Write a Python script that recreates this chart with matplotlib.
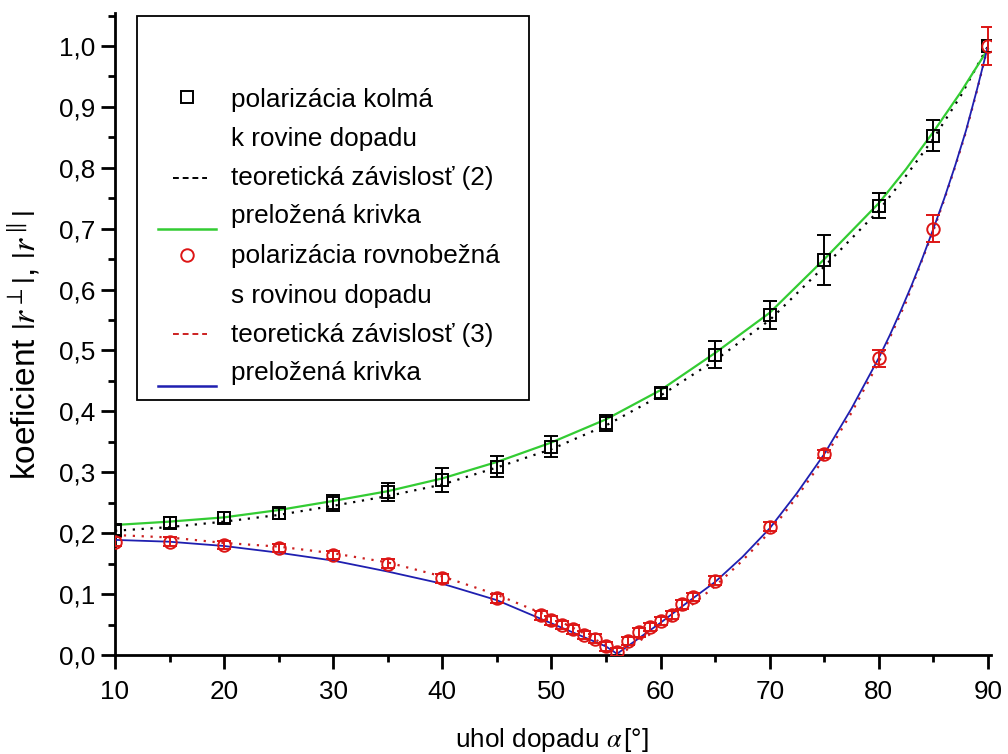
import matplotlib
matplotlib.use("Agg")
import matplotlib.pyplot as plt
from matplotlib.lines import Line2D
from matplotlib.patches import Rectangle
from matplotlib.ticker import MultipleLocator, FuncFormatter

# ---------------- data ----------------
alpha_perp = [10, 15, 20, 25, 30, 35, 40, 45, 50, 55, 60, 65, 70, 75, 80, 85, 90]
r_perp = [0.205, 0.217, 0.2255, 0.233, 0.249, 0.268, 0.287, 0.309, 0.342, 0.381,
          0.430, 0.493, 0.558, 0.648, 0.738, 0.853, 1.000]
r_perp_err = [0.008, 0.009, 0.009, 0.009, 0.013, 0.015, 0.020, 0.017, 0.017, 0.0125,
              0.008, 0.022, 0.023, 0.041, 0.020, 0.025, 0.010]

alpha_par = [10, 15, 20, 25, 30, 35, 40, 45,
             49, 50, 51, 52, 53, 54, 55, 56, 57, 58, 59, 60, 61, 62, 63,
             65, 70, 75, 80, 85, 90]
r_par = [0.186, 0.186, 0.181, 0.176, 0.164, 0.150, 0.126, 0.093,
         0.065, 0.057, 0.049, 0.042, 0.033, 0.027, 0.014, 0.005, 0.023, 0.037, 0.046,
         0.056, 0.066, 0.083, 0.095,
         0.122, 0.211, 0.330, 0.487, 0.700, 1.000]
r_par_err = [0.007, 0.007, 0.007, 0.007, 0.007, 0.007, 0.007, 0.007,
             0.007, 0.007, 0.007, 0.007, 0.007, 0.007, 0.007, 0.007, 0.007, 0.007, 0.007,
             0.007, 0.007, 0.007, 0.007,
             0.007, 0.007, 0.007, 0.014, 0.022, 0.032]

# fitted curve (perpendicular) and theoretical dependence (2)
curve_perp_x = [10, 15, 20, 25, 30, 35, 40, 45, 50, 55, 60, 65, 70, 75, 80, 82.5,
                85, 87.5, 90]
fit_perp_y = [0.2135, 0.219, 0.226, 0.238, 0.253, 0.269, 0.290, 0.317, 0.349, 0.387,
              0.435, 0.496, 0.562, 0.650, 0.742, 0.798, 0.859, 0.924, 0.995]
theory_perp_y = [0.204, 0.210, 0.219, 0.230, 0.245, 0.261, 0.280, 0.308, 0.338, 0.377,
                 0.426, 0.484, 0.550, 0.638, 0.730, 0.787, 0.848, 0.918, 1.000]

# fitted curve (parallel)
fit_par_x = [10, 15, 20, 25, 30, 35, 40, 45, 50, 52.5, 55, 56, 57.5, 60, 62.5, 65,
             67.5, 70, 72.5, 75, 77.5, 80, 81, 82, 83, 84, 85, 86, 87, 88, 89, 90]
fit_par_y = [0.189, 0.186, 0.179, 0.168, 0.155, 0.137, 0.117, 0.090, 0.052, 0.033,
             0.014, 0.002, 0.021, 0.053, 0.087, 0.120, 0.161, 0.208, 0.266, 0.330,
             0.405, 0.488, 0.525, 0.565, 0.607, 0.652, 0.700, 0.750, 0.804, 0.862,
             0.929, 1.000]

# theoretical dependence (3)
theory_par_x = [10, 15, 20, 25, 30, 35, 40, 45, 50, 52.5, 55, 56.3, 57.5, 60, 62.5,
                65, 67.5, 70, 72.5, 75, 77.5, 80, 82.5, 85, 86, 87, 88, 89, 90]
theory_par_y = [0.197, 0.193, 0.184, 0.178, 0.167, 0.152, 0.129, 0.099, 0.062, 0.040,
                0.016, 0.000, 0.017, 0.045, 0.077, 0.113, 0.155, 0.202, 0.260, 0.323,
                0.398, 0.481, 0.580, 0.697, 0.748, 0.802, 0.860, 0.927, 1.000]

legend_labels = ["polarizácia kolmá", "k rovine dopadu", "teoretická závislosť (2)",
                 "preložená krivka", "polarizácia rovnobežná", "s rovinou dopadu",
                 "teoretická závislosť (3)", "preložená krivka"]

x_label = r"uhol dopadu $\alpha\,$[°]"
y_label = r"koeficient $|r^{\perp}|$, $|r^{\parallel}|$"

# ---------------- style ----------------
plt.rcParams["font.family"] = ["Liberation Sans", "DejaVu Sans"]
plt.rcParams["mathtext.fontset"] = "stix"
FS = 18.8

GREEN = "#33cc33"
BLUE = "#1f1fb0"
RED = "#dd1515"
RED_D = "#cc2020"

fig = plt.figure(figsize=(10.08, 7.54), dpi=100)
W, H = 1008, 754
ax_l, ax_r, ax_t, ax_b = 115, 990.7, 12.5, 655
ax = fig.add_axes([ax_l / W, 1 - ax_b / H, (ax_r - ax_l) / W, (ax_b - ax_t) / H])

# curves
ax.plot(curve_perp_x, theory_perp_y, color="black", lw=1.6, ls=(0, (1, 3)), zorder=2)
ax.plot(curve_perp_x, fit_perp_y, color=GREEN, lw=1.6, zorder=3)
ax.plot(theory_par_x, theory_par_y, color=RED_D, lw=1.6, ls=(0, (1, 3)), zorder=2)
ax.plot(fit_par_x, fit_par_y, color=BLUE, lw=1.3, zorder=3)

# data points
ax.errorbar(alpha_perp, r_perp, yerr=r_perp_err, fmt="s", ms=8.5, mfc="none",
            mec="black", mew=1.4, ecolor="black", elinewidth=1.4, capsize=5,
            capthick=1.4, zorder=4)
ax.errorbar(alpha_par, r_par, yerr=r_par_err, fmt="o", ms=9, mfc="none",
            mec=RED, mew=1.4, ecolor=RED, elinewidth=1.4, capsize=5,
            capthick=1.4, zorder=4)

ax.set_xlim(10, 90.25)
ax.set_ylim(0, 1.055)

for s in ["top", "right"]:
    ax.spines[s].set_visible(False)
for s in ["left", "bottom"]:
    ax.spines[s].set_linewidth(2)

ax.xaxis.set_major_locator(MultipleLocator(10))
ax.xaxis.set_minor_locator(MultipleLocator(5))
ax.yaxis.set_major_locator(MultipleLocator(0.1))
ax.yaxis.set_minor_locator(MultipleLocator(0.05))
ax.yaxis.set_major_formatter(FuncFormatter(lambda v, p: f"{v:.1f}".replace(".", ",")))
ax.tick_params(which="major", direction="out", length=10, width=2, labelsize=FS)
ax.tick_params(which="minor", direction="out", length=5, width=2)
ax.tick_params(axis="x", which="major", pad=8)
ax.tick_params(axis="y", which="major", pad=4)

ax.set_xlabel(x_label, fontsize=FS)
ax.set_ylabel(y_label, fontsize=24)


def fx(px):
    return (px - ax_l) / (ax_r - ax_l)


def fy(py):
    return (ax_b - py) / (ax_b - ax_t)


ax.xaxis.set_label_coords(fx(552), fy(726))
ax.yaxis.set_label_coords(fx(43), fy(345))

# ---------------- manual legend ----------------
tr = ax.transAxes
ax.add_patch(Rectangle((fx(137), fy(400)), fx(529) - fx(137), fy(16) - fy(400),
                       transform=tr, fill=False, ec="black", lw=1.3, zorder=10,
                       clip_on=False))
baselines = [106.7, 146, 185, 223.3, 263.3, 303.3, 341.7, 380]
for lab, b in zip(legend_labels, baselines):
    ax.text(fx(231), fy(b), lab, transform=tr, fontsize=FS, va="baseline",
            ha="left", zorder=11)

ax.add_line(Line2D([fx(186.7)], [fy(97.3)], marker="s", ms=8.5, mfc="none",
                   mec="black", mew=1.4, transform=tr, zorder=11))
ax.add_line(Line2D([fx(186.7)], [fy(255)], marker="o", ms=9, mfc="none",
                   mec=RED, mew=1.4, transform=tr, zorder=11))
ax.add_line(Line2D([fx(173), fx(207)], [fy(178.3)] * 2, color="black", lw=1.4,
                   ls=(0, (3, 2)), transform=tr, zorder=11))
ax.add_line(Line2D([fx(158), fx(216)], [fy(229)] * 2, color=GREEN, lw=1.8,
                   transform=tr, zorder=11))
ax.add_line(Line2D([fx(173), fx(207)], [fy(334.3)] * 2, color=RED_D, lw=1.4,
                   ls=(0, (3, 2)), transform=tr, zorder=11))
ax.add_line(Line2D([fx(158), fx(216)], [fy(385.7)] * 2, color=BLUE, lw=1.8,
                   transform=tr, zorder=11))

fig.savefig("out.png", dpi=100)
